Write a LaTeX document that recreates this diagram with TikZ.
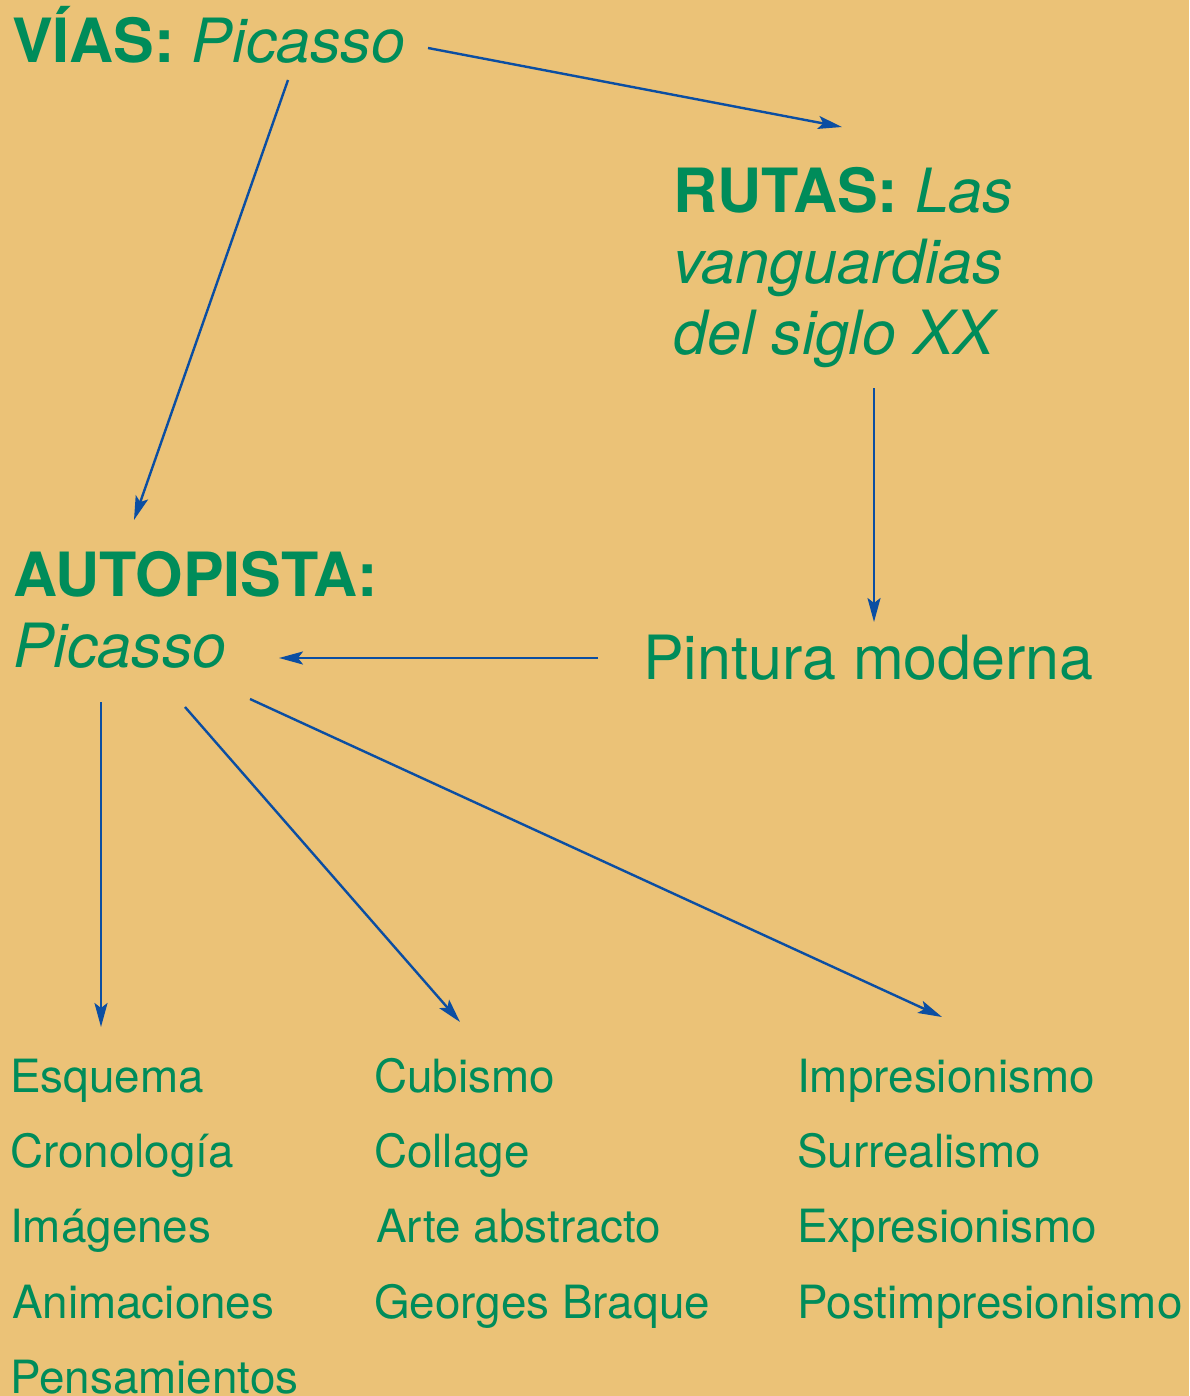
\documentclass[tikz,border=0pt]{standalone}
\usepackage{fontspec}
\setmainfont{TeX Gyre Heros}
\usetikzlibrary{arrows.meta}
\definecolor{bgc}{HTML}{EBC277}
\definecolor{grn}{HTML}{008C5A}
\definecolor{blu}{HTML}{0B4EA2}
\tikzset{
  head/.style={anchor=base west, inner sep=0pt, text=grn, font=\fontsize{61}{71}\selectfont, align=left},
  item/.style={anchor=base west, inner sep=0pt, text=grn, font=\fontsize{45.8}{54}\selectfont},
  arr/.style={draw=blu, line width=2.4pt, -{Stealth[length=24pt,width=13pt,inset=5pt]}}
}
\begin{document}
\begin{tikzpicture}[x=1pt,y=-1pt]
\fill[bgc] (0,0) rectangle (1189,1396);
\useasboundingbox (0,0) rectangle (1189,1396);
% headings (base anchor = last line)
\node[head] (vias) at (12,63) {\textbf{VÍAS:} \textit{Picasso}};
\node[head] (rutas) at (673,354) {\textbf{RUTAS:} \textit{Las}\\\textit{vanguardias}\\\textit{del siglo XX}};
\node[head] (auto) at (13,667) {\textbf{AUTOPISTA:}\\\textit{Picasso}};
\node[head] (pint) at (643,679) {Pintura moderna};
% column 1
\node[item] (c1a) at (10,1092) {Esquema};
\node[item] (c1b) at (10,1167) {Cronología};
\node[item] (c1c) at (10,1242) {Imágenes};
\node[item] (c1d) at (12,1318) {Animaciones};
\node[item] (c1e) at (10,1393) {Pensamientos};
% column 2
\node[item] (c2a) at (374,1092) {Cubismo};
\node[item] (c2b) at (374,1167) {Collage};
\node[item] (c2c) at (376,1242) {Arte abstracto};
\node[item] (c2d) at (374,1318) {Georges Braque};
% column 3
\node[item] (c3a) at (797,1092) {Impresionismo};
\node[item] (c3b) at (797,1167) {Surrealismo};
\node[item] (c3c) at (797,1242) {Expresionismo};
\node[item] (c3d) at (797,1318) {Postimpresionismo};
% arrow endpoints
\coordinate (a1s) at (428,48);
\coordinate (a1e) at (842,127);
\coordinate (a2s) at (288,80);
\coordinate (a2e) at (134,520);
\coordinate (a3s) at (874,388);
\coordinate (a3e) at (874,622);
\coordinate (a4s) at (598,658);
\coordinate (a4e) at (279,658);
\coordinate (a5s) at (101,702);
\coordinate (a5e) at (101,1027);
\coordinate (a6s) at (185,707);
\coordinate (a6e) at (460,1022);
\coordinate (a7s) at (250,699);
\coordinate (a7e) at (942,1017);
\draw[arr] (a1s) -- (a1e);
\draw[arr] (a2s) -- (a2e);
\draw[arr] (a3s) -- (a3e);
\draw[arr] (a4s) -- (a4e);
\draw[arr] (a5s) -- (a5e);
\draw[arr] (a6s) -- (a6e);
\draw[arr] (a7s) -- (a7e);
\end{tikzpicture}
\end{document}
